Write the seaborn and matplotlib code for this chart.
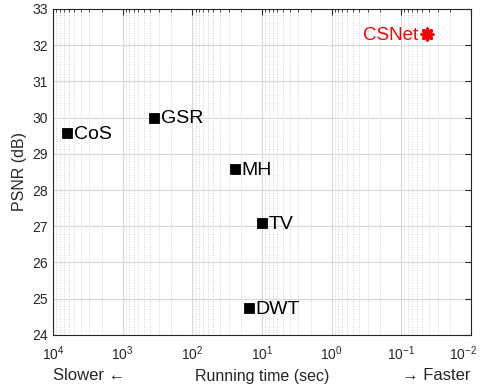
import matplotlib
matplotlib.use("Agg")
import matplotlib.pyplot as plt
import matplotlib.transforms as mtransforms
import seaborn as sns
import pandas as pd
import numpy as np
from matplotlib.ticker import LogLocator, NullFormatter

methods = ["CoS", "GSR", "MH", "TV", "DWT"]
run_time = [6300, 360, 24.5, 10.0, 15.5]
psnr = [29.57, 30.0, 28.58, 27.09, 24.74]

csnet_time = [0.043]
csnet_psnr = [32.31]

x_decades = [1e4, 1e3, 1e2, 1e1, 1e0, 1e-1, 1e-2]

df = pd.DataFrame({"method": methods, "time": run_time, "psnr": psnr})

sns.set_style("white")
plt.rcParams["font.family"] = ["Liberation Sans", "DejaVu Sans"]

fig, ax = plt.subplots(figsize=(4.87, 3.85), dpi=100)
fig.subplots_adjust(left=0.109, right=0.967, top=0.977, bottom=0.13)

sns.scatterplot(data=df, x="time", y="psnr", marker="s", color="black",
                s=55, edgecolor="black", ax=ax, zorder=5)
for m, t, p in zip(methods, run_time, psnr):
    ax.annotate(m, (t, p), xytext=(5, -1), textcoords="offset points",
                fontsize=14, va="center", ha="left", color="black")

ax.scatter(csnet_time, csnet_psnr, marker=(8, 2, 0), s=60, color="red",
           linewidths=2.4, zorder=5)
ax.annotate("CSNet", (csnet_time[0], csnet_psnr[0]), xytext=(-6, -1),
            textcoords="offset points", fontsize=13.5, va="center", ha="right",
            color="red")

ax.set_xscale("log")
ax.set_xlim(1e4, 1e-2)
ax.set_ylim(24, 33)
ax.set_yticks(range(24, 34))
ax.set_xticks(x_decades)
ax.xaxis.set_minor_locator(LogLocator(base=10, subs=np.arange(2, 10), numticks=100))
ax.xaxis.set_minor_formatter(NullFormatter())

ax.grid(True, which="major", color="#d6d6d6", linewidth=0.8)
ax.grid(True, which="minor", axis="x", color="#cfcfcf", linestyle=":", linewidth=0.7)
ax.set_axisbelow(True)

for s in ax.spines.values():
    s.set_color("#262626")
    s.set_linewidth(0.8)
    s.set_visible(True)
ax.tick_params(which="both", direction="in", top=True, right=True,
               colors="#262626", labelcolor="#262626", labelsize=10)
ax.tick_params(axis="x", which="major", pad=7)
ax.tick_params(which="major", length=4)
ax.tick_params(which="minor", length=2.5)

ax.set_ylabel("PSNR (dB)", fontsize=11.5, color="#262626")
ax.set_xlabel("Running time (sec)", fontsize=11.5, color="#262626", labelpad=4)
ax.text(0.0, -0.125, "Slower \u2190", transform=ax.transAxes, fontsize=12,
        color="#262626", ha="left", va="center")
ax.text(1.0, -0.125, "\u2192 Faster", transform=ax.transAxes, fontsize=12,
        color="#262626", ha="right", va="center")

# keep the 10^-2 label inside the canvas
fig.canvas.draw()
for tick in ax.xaxis.get_major_ticks():
    if np.isclose(tick.get_loc(), 1e-2):
        lab = tick.label1
        lab.set_transform(lab.get_transform() +
                          mtransforms.ScaledTranslation(-6 / 72, 0, fig.dpi_scale_trans))

fig.savefig("out.png", dpi=100)
